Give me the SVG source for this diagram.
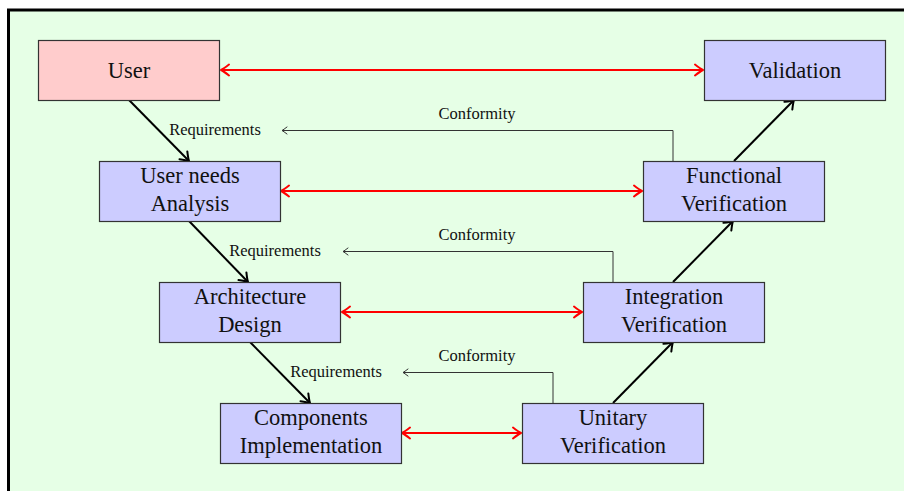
<svg xmlns="http://www.w3.org/2000/svg" width="904" height="491" viewBox="0 0 904 491">
<style>
.box{fill:#ccccff;stroke:#333;stroke-width:1.2}
.user{fill:#ffcccc}
.nt{font-family:"Liberation Serif","Times New Roman",serif;font-size:22.5px;fill:#111;text-anchor:middle}
.lt{font-family:"Liberation Serif","Times New Roman",serif;font-size:16.5px;fill:#111;text-anchor:middle}
.blk{stroke:#000;stroke-width:2;fill:none;marker-end:url(#ab)}
.red{stroke:#ff0000;stroke-width:2;fill:none;marker-start:url(#ar);marker-end:url(#ar)}
.cf{stroke:#333;stroke-width:1;fill:none;marker-end:url(#ac)}
</style>
<defs>
<marker id="ab" viewBox="-10 -7 12 14" refX="0" refY="0" markerWidth="12" markerHeight="14" markerUnits="userSpaceOnUse" orient="auto">
<path d="M-8,-5.5 Q-2.5,-1.2 0,0 Q-2.5,1.2 -8,5.5" fill="none" stroke="#000" stroke-width="2" stroke-linecap="round" stroke-linejoin="round"/>
</marker>
<marker id="ar" viewBox="-10 -7 12 14" refX="0" refY="0" markerWidth="12" markerHeight="14" markerUnits="userSpaceOnUse" orient="auto-start-reverse">
<path d="M-8,-5.5 Q-2.5,-1.2 0,0 Q-2.5,1.2 -8,5.5" fill="none" stroke="#ff0000" stroke-width="2" stroke-linecap="round" stroke-linejoin="round"/>
</marker>
<marker id="ac" viewBox="-7 -5 8 10" refX="0" refY="0" markerWidth="8" markerHeight="10" markerUnits="userSpaceOnUse" orient="auto">
<path d="M-5,-3.5 Q-1.5,-0.8 0,0 Q-1.5,0.8 -5,3.5" fill="none" stroke="#333" stroke-width="1" stroke-linecap="round"/>
</marker>
</defs>
<rect x="0" y="0" width="904" height="491" fill="#ffffff"/>
<rect x="8.5" y="10" width="910" height="500" fill="#e6ffe6" stroke="#000" stroke-width="3"/>

<g id="connectors">
<line class="red" x1="221" y1="70" x2="703" y2="70"/>
<line class="red" x1="281" y1="191" x2="642" y2="191"/>
<line class="red" x1="342" y1="312" x2="582" y2="312"/>
<line class="red" x1="402" y1="433" x2="521" y2="433"/>
<line class="blk" x1="129" y1="100" x2="189" y2="161"/>
<line class="blk" x1="189" y1="221" x2="248" y2="282"/>
<line class="blk" x1="250" y1="342" x2="310" y2="403"/>
<line class="blk" x1="613" y1="403" x2="673" y2="342"/>
<line class="blk" x1="673" y1="282" x2="733" y2="221"/>
<line class="blk" x1="734" y1="161" x2="794" y2="100"/>
<polyline class="cf" points="673,161 673,130.5 282,130.5"/>
<polyline class="cf" points="613,282 613,251.5 343,251.5"/>
<polyline class="cf" points="553,403 553,372.5 403,372.5"/>
<text class="lt" x="215" y="134.5">Requirements</text>
<text class="lt" x="275" y="255.5">Requirements</text>
<text class="lt" x="336" y="376.5">Requirements</text>
<text class="lt" x="477" y="118.5">Conformity</text>
<text class="lt" x="477" y="239.5">Conformity</text>
<text class="lt" x="477" y="360.5">Conformity</text>
</g>

<g id="user"><rect class="box user" x="38.5" y="40.5" width="181" height="60"/><text class="nt" x="129" y="78">User</text></g>
<g id="validation"><rect class="box" x="704.5" y="40.5" width="181" height="60"/><text class="nt" x="795" y="78">Validation</text></g>
<g id="analysis"><rect class="box" x="99.5" y="161.5" width="181" height="60"/><text class="nt" x="190" y="183">User needs</text><text class="nt" x="190" y="211">Analysis</text></g>
<g id="functional"><rect class="box" x="643.5" y="161.5" width="181" height="60"/><text class="nt" x="734" y="183">Functional</text><text class="nt" x="734" y="211">Verification</text></g>
<g id="architecture"><rect class="box" x="159.5" y="282.5" width="181" height="60"/><text class="nt" x="250" y="304">Architecture</text><text class="nt" x="250" y="332">Design</text></g>
<g id="integration"><rect class="box" x="583.5" y="282.5" width="181" height="60"/><text class="nt" x="674" y="304">Integration</text><text class="nt" x="674" y="332">Verification</text></g>
<g id="components"><rect class="box" x="220.5" y="403.5" width="181" height="60"/><text class="nt" x="311" y="425">Components</text><text class="nt" x="311" y="453">Implementation</text></g>
<g id="unitary"><rect class="box" x="522.5" y="403.5" width="181" height="60"/><text class="nt" x="613" y="425">Unitary</text><text class="nt" x="613" y="453">Verification</text></g>
</svg>
